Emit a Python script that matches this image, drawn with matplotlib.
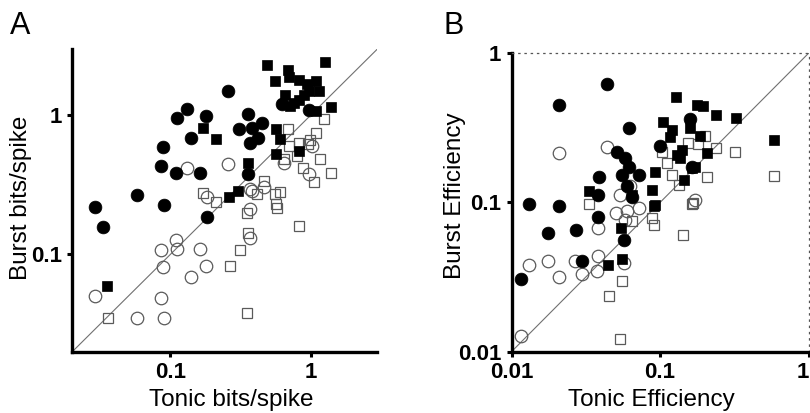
import matplotlib
matplotlib.use("Agg")
import matplotlib.pyplot as plt
from matplotlib.ticker import NullLocator, FixedLocator, FixedFormatter

# ---------------- Panel A data: (tonic bits/spike, burst bits/spike) ----------------
A_fc_x = [0.029, 0.033, 0.0575, 0.090, 0.088, 0.0858, 0.109, 0.112, 0.131, 0.141, 0.164,
          0.179, 0.182, 0.256, 0.311, 0.360, 0.385, 0.369, 0.453, 0.424, 0.360, 0.627, 0.972]
A_fc_y = [0.218, 0.157, 0.269, 0.228, 0.596, 0.429, 0.384, 0.952, 1.12, 0.691, 0.388,
          0.99, 0.187, 1.49, 0.794, 1.03, 0.815, 0.637, 0.885, 0.691, 0.378, 1.20, 1.10]

A_fs_x = [0.0353, 0.170, 0.212, 0.489, 1.26, 0.687, 0.561, 0.699, 0.824, 1.09, 0.947,
          0.662, 0.719, 0.895, 1.15, 0.972, 0.759, 0.824, 1.41, 1.09, 0.570, 0.603,
          0.570, 0.824, 0.360, 0.303, 0.263]
A_fs_y = [0.0593, 0.815, 0.680, 2.32, 2.41, 2.13, 1.78, 1.88, 1.81, 1.78, 1.67,
          1.41, 1.17, 1.41, 1.49, 1.49, 1.23, 1.30, 1.15, 1.07, 0.794, 0.673,
          0.526, 0.555, 0.458, 0.287, 0.257]

A_oc_x = [0.029, 0.0575, 0.090, 0.0858, 0.0858, 0.088, 0.109, 0.112, 0.141, 0.164, 0.179,
          0.131, 0.256, 0.369, 0.369, 0.385, 0.463, 0.644, 1.03, 0.972, 0.182, 0.371]
A_oc_y = [0.050, 0.035, 0.035, 0.0487, 0.107, 0.081, 0.127, 0.110, 0.0688, 0.110, 0.082,
          0.415, 0.450, 0.212, 0.131, 0.287, 0.303, 0.453, 0.603, 0.378, 0.257, 0.295]

A_os_x = [0.0358, 0.170, 0.212, 0.352, 0.360, 0.315, 0.267, 0.355, 0.415, 0.603, 0.561,
          0.570, 0.577, 0.824, 1.06, 0.468, 1.25, 0.692, 1.10, 0.824, 0.989, 0.956,
          0.699, 0.803, 0.644, 1.17, 0.887, 1.41]
A_os_y = [0.035, 0.275, 0.237, 0.198, 0.142, 0.108, 0.082, 0.0377, 0.272, 0.279, 0.272,
          0.231, 0.216, 0.161, 0.330, 0.339, 0.936, 0.802, 0.750, 0.637, 0.662, 0.620,
          0.603, 0.512, 0.484, 0.489, 0.415, 0.382]

# ---------------- Panel B data: (tonic efficiency, burst efficiency) ----------------
B_fc_x = [0.044, 0.021, 0.062, 0.0115, 0.0132, 0.0208, 0.0177, 0.027, 0.0299, 0.0383,
          0.0387, 0.0383, 0.0513, 0.0584, 0.0615, 0.0554, 0.0718, 0.0598, 0.0644, 0.0574,
          0.100, 0.165, 0.158]
B_fc_y = [0.62, 0.451, 0.315, 0.0307, 0.098, 0.094, 0.0624, 0.0656, 0.0403, 0.0805,
          0.147, 0.1127, 0.219, 0.198, 0.174, 0.153, 0.153, 0.128, 0.109, 0.0562,
          0.239, 0.174, 0.36]

B_fs_x = [0.1277, 0.1766, 0.196, 0.2366, 0.323, 0.586, 0.104, 0.120, 0.117, 0.160, 0.186,
          0.140, 0.130, 0.137, 0.206, 0.172, 0.163, 0.0919, 0.144, 0.0881, 0.0919, 0.0331,
          0.0647, 0.0447, 0.0554, 0.0549, 0.0904]
B_fs_y = [0.507, 0.451, 0.443, 0.386, 0.367, 0.262, 0.348, 0.306, 0.276, 0.315, 0.279,
          0.225, 0.208, 0.198, 0.214, 0.174, 0.170, 0.161, 0.142, 0.1216, 0.0966, 0.120,
          0.1127, 0.0383, 0.0418, 0.0674, 0.094]

B_oc_x = [0.021, 0.044, 0.0132, 0.0177, 0.0208, 0.0266, 0.0383, 0.0299, 0.0377, 0.0383,
          0.0115, 0.0505, 0.0598, 0.0584, 0.0718, 0.0569, 0.172, 0.054, 0.063]
B_oc_y = [0.216, 0.235, 0.0383, 0.0407, 0.0315, 0.0403, 0.044, 0.0333, 0.0345, 0.0674,
          0.0127, 0.085, 0.087, 0.0766, 0.0918, 0.0393, 0.104, 0.113, 0.128]

B_os_x = [0.0331, 0.0554, 0.0451, 0.054, 0.0647, 0.0881, 0.0904, 0.586, 0.318, 0.240,
          0.168, 0.143, 0.201, 0.154, 0.181, 0.111, 0.120, 0.206, 0.135, 0.163, 0.103]
B_os_y = [0.098, 0.0296, 0.0235, 0.0122, 0.0746, 0.0786, 0.071, 0.151, 0.219, 0.231,
          0.099, 0.0607, 0.279, 0.249, 0.247, 0.185, 0.153, 0.148, 0.131, 0.098, 0.219]

A_ticks = [0.1, 1]
A_ticklabels = ["0.1", "1"]
B_ticks = [0.01, 0.1, 1]
B_ticklabels = ["0.01", "0.1", "1"]

TICKFONT = ["Liberation Sans", "DejaVu Sans"]
LABELFONT = ["Liberation Sans", "DejaVu Sans"]
plt.rcParams["font.family"] = LABELFONT

fig = plt.figure(figsize=(8.1, 4.13), dpi=100)
W, H = 810.0, 413.0
axA_box = [72.4, 49.0, 377.4, 351.6]     # left, top, right, bottom in pixels
axB_box = [511.6, 53.3, 808.5, 351.6]


def add_ax(box):
    l, t, r, b = box
    return fig.add_axes([l / W, 1 - b / H, (r - l) / W, (b - t) / H])


axA = add_ax(axA_box)
axB = add_ax(axB_box)

GRAY = "#5a5a5a"


def draw(ax, fcx, fcy, fsx, fsy, ocx, ocy, osx, osy, lim):
    ax.set_xscale("log")
    ax.set_yscale("log")
    ax.set_xlim(lim)
    ax.set_ylim(lim)
    ax.plot(lim, lim, color="#707070", lw=0.8, zorder=1)
    ax.plot(ocx, ocy, "o", ms=9, mfc="none", mec=GRAY, mew=0.9, zorder=2)
    ax.plot(osx, osy, "s", ms=7, mfc="none", mec=GRAY, mew=0.9, zorder=2)
    ax.plot(fcx, fcy, "o", ms=9.2, mfc="black", mec="black", mew=0.5, zorder=3)
    ax.plot(fsx, fsy, "s", ms=7.3, mfc="black", mec="black", mew=0.5, zorder=3)
    for s in ("left", "bottom"):
        ax.spines[s].set_linewidth(2.4)
    ax.xaxis.set_minor_locator(NullLocator())
    ax.yaxis.set_minor_locator(NullLocator())
    ax.tick_params(axis="both", which="major", direction="out", length=3.5,
                   width=2.2, pad=4)
    ax.set_facecolor("none")


draw(axA, A_fc_x, A_fc_y, A_fs_x, A_fs_y, A_oc_x, A_oc_y, A_os_x, A_os_y, (0.02, 3.0))
draw(axB, B_fc_x, B_fc_y, B_fs_x, B_fs_y, B_oc_x, B_oc_y, B_os_x, B_os_y, (0.01, 1.0))

axA.spines["top"].set_visible(False)
axA.spines["right"].set_visible(False)
for s in ("top", "right"):
    axB.spines[s].set_linewidth(0.9)
    axB.spines[s].set_linestyle((0, (1, 4)))
    axB.spines[s].set_color("#555555")
axB.tick_params(top=False, right=False)

for ax, ticks, labels in ((axA, A_ticks, A_ticklabels), (axB, B_ticks, B_ticklabels)):
    ax.xaxis.set_major_locator(FixedLocator(ticks))
    ax.yaxis.set_major_locator(FixedLocator(ticks))
    ax.xaxis.set_major_formatter(FixedFormatter(labels))
    ax.yaxis.set_major_formatter(FixedFormatter(labels))
    for lab in ax.get_xticklabels() + ax.get_yticklabels():
        lab.set_family(TICKFONT)
        lab.set_fontweight("bold")
        lab.set_fontsize(16)

# keep the rightmost "1" of panel B inside the figure
axB.get_xticklabels()[-1].set_horizontalalignment("right")

LFS = 17.5
axA.set_xlabel("Tonic bits/spike", fontsize=LFS)
axA.set_ylabel("Burst bits/spike", fontsize=LFS)
axB.set_xlabel("Tonic Efficiency", fontsize=LFS)
axB.set_ylabel("Burst Efficiency", fontsize=LFS)


def px_to_axes(box, px, py):
    l, t, r, b = box
    return (px - l) / (r - l), (b - py) / (b - t)


axA.xaxis.set_label_coords(*px_to_axes(axA_box, 231, 389))
axB.xaxis.set_label_coords(*px_to_axes(axB_box, 651, 389))
axA.yaxis.set_label_coords(*px_to_axes(axA_box, 32, 198))
axB.yaxis.set_label_coords(*px_to_axes(axB_box, 466, 196))

fig.text(10 / W, 1 - 26 / H, "A", fontsize=22, va="center", ha="left")
fig.text(444 / W, 1 - 26 / H, "B", fontsize=22, va="center", ha="left")

fig.savefig("out.png", dpi=100)
